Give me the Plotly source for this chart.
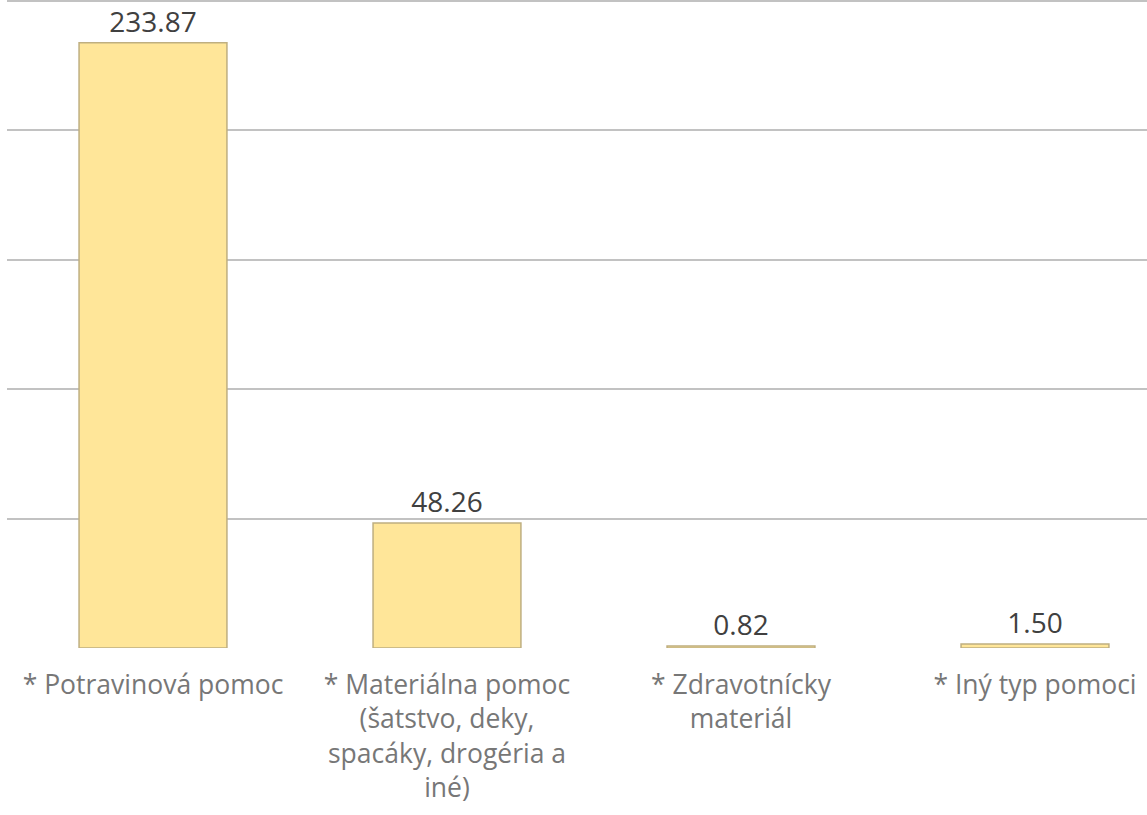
import plotly.graph_objects as go

categories = [
    "* Potravinová pomoc",
    "* Materiálna pomoc<br>(šatstvo, deky,<br>spacáky, drogéria a<br>iné)",
    "* Zdravotnícky<br>materiál",
    "* Iný typ pomoci",
]
values = [233.87, 48.26, 0.82, 1.50]
value_labels = ["233.87", "48.26", "0.82", "1.50"]
grid_ticks = [50, 100, 150, 200, 250]

font = "Open Sans, Noto Sans, sans-serif"

fig = go.Figure(
    go.Bar(
        x=list(range(len(categories))),
        y=values,
        width=0.503,
        marker=dict(color="#FFE699", line=dict(color="#BFAF80", width=1.5)),
        text=value_labels,
        textposition="outside",
        textfont=dict(family=font, size=28, color="#404040"),
        cliponaxis=False,
    )
)

fig.update_layout(
    width=1147,
    height=815,
    margin=dict(l=7, r=0, t=0, b=167, autoexpand=False),
    paper_bgcolor="white",
    plot_bgcolor="white",
    showlegend=False,
    font=dict(family=font),
)

fig.update_xaxes(
    range=[-0.4966, 3.381],
    tickmode="array",
    tickvals=list(range(len(categories))),
    ticktext=categories,
    tickfont=dict(family=font, size=26.5, color="#777777"),
    showgrid=False,
    zeroline=False,
    showline=False,
    ticks="outside",
    ticklen=13,
    tickcolor="rgba(0,0,0,0)",
    automargin=False,
)

fig.update_yaxes(
    range=[0, 250.39],
    tickmode="array",
    tickvals=grid_ticks,
    showticklabels=False,
    showgrid=True,
    gridcolor="#C2C2C2",
    gridwidth=2,
    zeroline=False,
    showline=False,
    automargin=False,
)

fig.write_html(
    "out.html",
    config={"displayModeBar": False},
    post_script="document.body.style.margin='0';",
)
